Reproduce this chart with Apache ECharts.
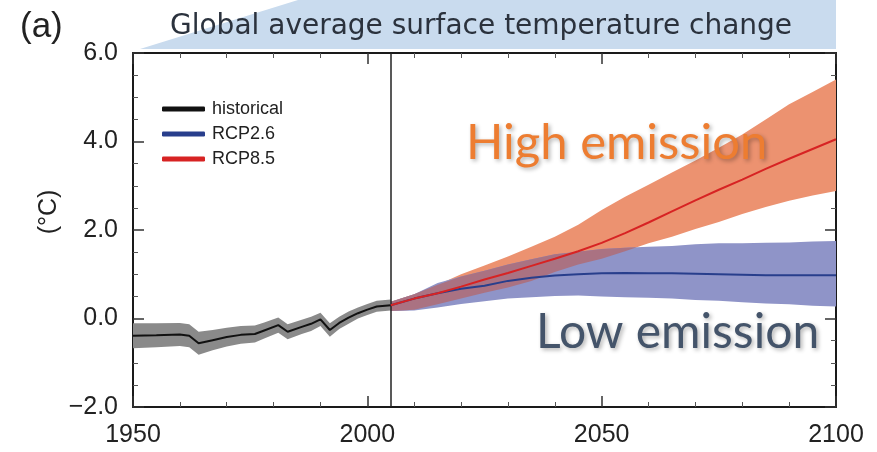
<!DOCTYPE html>
<html>
<head>
<meta charset="utf-8">
<script src="https://cdn.jsdelivr.net/npm/echarts@6/dist/echarts.min.js"></script>
<style>
html,body{margin:0;padding:0;background:#fff;}
#chart{width:877px;height:452px;}
</style>
</head>
<body>
<div id="chart"></div>
<script>
// ---- data ----
const histYears = [1950,1955,1960,1962,1964,1967,1970,1973,1976,1978,1981,1983,1986,1988,1990,1992,1994,1996,1998,2000,2002,2005];
const histMean  = [-0.39,-0.38,-0.36,-0.39,-0.56,-0.49,-0.42,-0.37,-0.35,-0.27,-0.15,-0.30,-0.19,-0.12,-0.02,-0.26,-0.10,0.02,0.12,0.20,0.27,0.30];
const histUpper = [-0.11,-0.11,-0.10,-0.13,-0.30,-0.26,-0.21,-0.17,-0.16,-0.09,0.02,-0.13,-0.03,0.04,0.13,-0.11,0.04,0.16,0.25,0.33,0.40,0.43];
const histLower = [-0.67,-0.65,-0.62,-0.65,-0.82,-0.72,-0.63,-0.57,-0.54,-0.45,-0.32,-0.47,-0.35,-0.28,-0.17,-0.41,-0.24,-0.12,0.00,0.08,0.15,0.18];

const projYears = [2005,2010,2015,2020,2025,2030,2035,2040,2045,2050,2055,2060,2065,2070,2075,2080,2085,2090,2095,2100];
const rcp85Mean  = [0.30,0.45,0.57,0.72,0.88,1.03,1.19,1.35,1.52,1.71,1.93,2.17,2.42,2.67,2.91,3.14,3.38,3.61,3.83,4.05];
const rcp85Upper = [0.38,0.55,0.76,1.00,1.20,1.40,1.62,1.85,2.12,2.45,2.75,3.02,3.30,3.57,3.86,4.16,4.50,4.84,5.12,5.40];
const rcp85Lower = [0.17,0.20,0.32,0.45,0.58,0.70,0.85,1.05,1.22,1.35,1.52,1.70,1.85,2.02,2.18,2.36,2.52,2.66,2.78,2.88];
const rcp26Mean  = [0.30,0.45,0.57,0.67,0.74,0.85,0.92,0.97,1.00,1.02,1.03,1.02,1.02,1.01,1.00,0.99,0.98,0.98,0.98,0.98];
const rcp26Upper = [0.38,0.55,0.80,0.95,1.08,1.22,1.34,1.45,1.51,1.57,1.60,1.62,1.64,1.68,1.70,1.70,1.71,1.72,1.74,1.75];
const rcp26Lower = [0.17,0.18,0.25,0.33,0.39,0.45,0.48,0.51,0.52,0.50,0.48,0.47,0.45,0.42,0.40,0.37,0.34,0.32,0.29,0.27];

const xTickValues = [1950,2000,2050,2100];
const xTickLabels = ['1950','2000','2050','2100'];
const yTickValues = [-2,0,2,4,6];
const yTickLabels = ['\u22122.0','0.0','2.0','4.0','6.0'];
const scenarioYear = 2005;

// ---- helpers ----
const chart = echarts.init(document.getElementById('chart'));

function pairs(xs, ys){ return xs.map((x,i)=>[x, ys[i]]); }
// overlap of two bands sharing the same x positions (built from the band arrays)
function overlapBand(xs, uA, lA, uB, lB){
  const X=[], U=[], L=[];
  let pHi=null, pLo=null;
  for(let i=0;i<xs.length;i++){
    const hi=Math.min(uA[i],uB[i]), lo=Math.max(lA[i],lB[i]);
    if(i>0){
      const g0=pHi-pLo, g1=hi-lo;
      if((g0>0)!==(g1>0)){
        const t=g0/(g0-g1);
        const xc=xs[i-1]+t*(xs[i]-xs[i-1]);
        const vc=pLo+t*(lo-pLo);
        X.push(xc); U.push(vc); L.push(vc);
      }
    }
    if(hi>lo){ X.push(xs[i]); U.push(hi); L.push(lo); }
    pHi=hi; pLo=lo;
  }
  return {x:X, up:U, lo:L};
}
function band(name, xs, up, lo, color, z){
  return {
    type:'custom', name:name, silent:true, z:z,
    data:[[xs[0], up[0]]],
    encode:{x:0, y:1},
    renderItem:function(params, api){
      if(params.dataIndex!==0) return null;
      const pts=[];
      for(let i=0;i<xs.length;i++) pts.push(api.coord([xs[i], up[i]]));
      for(let i=xs.length-1;i>=0;i--) pts.push(api.coord([xs[i], lo[i]]));
      return {type:'polygon', shape:{points:pts}, style:{fill:color}};
    }
  };
}
const ov = overlapBand(projYears, rcp85Upper, rcp85Lower, rcp26Upper, rcp26Lower);

const labelFont = 'Liberation Sans, Arial, sans-serif';
function xLab(v){ const i=xTickValues.indexOf(v); return i>=0?xTickLabels[i]:''; }
function yLab(v){ const i=yTickValues.indexOf(v); return i>=0?yTickLabels[i]:''; }

const axisLineStyle = {color:'#1a1a1a', width:2};
const tickStyle = {color:'#333', width:1.5};
const minorStyle = {color:'#555', width:1};

chart.setOption({
  animation:false,
  backgroundColor:'#fff',
  grid:{left:133, right:41, top:53, bottom:45, containLabel:false},
  legend:{
    data:['historical','RCP2.6','RCP8.5'],
    orient:'vertical', left:157, top:94,
    icon:'roundRect', itemWidth:43, itemHeight:5, itemGap:5,
    textStyle:{fontFamily:labelFont, fontSize:18, color:'#222', lineHeight:20, padding:[0,0,0,2]},
    selectedMode:false
  },
  xAxis:[
    {type:'value', min:1950, max:2100, interval:50, position:'bottom',
     axisLine:{show:true, lineStyle:axisLineStyle, onZero:false},
     axisTick:{show:true, inside:true, length:11, lineStyle:tickStyle},
     minorTick:{show:true, splitNumber:5, length:5, lineStyle:minorStyle},
     splitLine:{show:false},
     axisLabel:{formatter:xLab, fontFamily:labelFont, fontSize:25, color:'#222', margin:16}},
    {type:'value', min:1950, max:2100, interval:50, position:'top',
     axisLine:{show:true, lineStyle:axisLineStyle, onZero:false},
     axisTick:{show:true, inside:true, length:11, lineStyle:tickStyle},
     minorTick:{show:true, splitNumber:5, length:5, lineStyle:minorStyle},
     splitLine:{show:false}, axisLabel:{show:false}}
  ],
  yAxis:[
    {type:'value', min:-2, max:6, interval:2, position:'left',
     axisLine:{show:true, lineStyle:axisLineStyle, onZero:false},
     axisTick:{show:true, inside:true, length:11, lineStyle:tickStyle},
     minorTick:{show:true, splitNumber:4, length:5, lineStyle:minorStyle},
     splitLine:{show:false},
     axisLabel:{formatter:yLab, fontFamily:labelFont, fontSize:25, color:'#222', margin:15}},
    {type:'value', min:-2, max:6, interval:2, position:'right',
     axisLine:{show:true, lineStyle:axisLineStyle, onZero:false},
     axisTick:{show:true, inside:true, length:11, lineStyle:tickStyle},
     minorTick:{show:true, splitNumber:4, length:5, lineStyle:minorStyle},
     splitLine:{show:false}, axisLabel:{show:false}}
  ],
  series:[
    band('histBand', histYears, histUpper, histLower, 'rgb(138,138,138)', 1),
    band('rcp85Band', projYears, rcp85Upper, rcp85Lower, 'rgb(236,146,112)', 2),
    band('rcp26Band', projYears, rcp26Upper, rcp26Lower, 'rgb(143,148,200)', 3),
    band('overlapBand', ov.x, ov.up, ov.lo, 'rgb(170,114,130)', 4),
    {type:'line', name:'historical', data:pairs(histYears, histMean), showSymbol:false, z:5,
     lineStyle:{color:'#111', width:2}, itemStyle:{color:'#111'},
     markLine:{silent:true, symbol:'none', label:{show:false},
       lineStyle:{color:'#222', width:1.5, type:'solid'}, data:[{xAxis:scenarioYear}]}},
    {type:'line', name:'RCP2.6', data:pairs(projYears, rcp26Mean), showSymbol:false, z:6,
     lineStyle:{color:'rgb(40,62,140)', width:2}, itemStyle:{color:'rgb(40,62,140)'}},
    {type:'line', name:'RCP8.5', data:pairs(projYears, rcp85Mean), showSymbol:false, z:7,
     lineStyle:{color:'rgb(215,35,35)', width:2}, itemStyle:{color:'rgb(215,35,35)'}}
  ],
  graphic:[
    {type:'polygon', z:-1, silent:true, shape:{points:[[140,49],[298,0],[836,0],[836,49]]}, style:{fill:'#c9dbee'}},
    {type:'text', left:170, top:13, z:100, silent:true,
     style:{text:'Global average surface temperature change', font:'28px "DejaVu Sans"', fill:'#2b323d'}},
    {type:'text', left:20, top:10, z:100, silent:true,
     style:{text:'(a)', font:'35px "Liberation Sans"', fill:'#222'}},
    {type:'text', x:49, y:212, rotation:Math.PI/2, z:100, silent:true,
     style:{text:'(\u00b0C)', font:'25px "Liberation Sans"', fill:'#222', align:'center', verticalAlign:'middle'}},
    {type:'text', left:466, top:119, z:100, silent:true,
     style:{text:'High emission', font:'49px Lato', fill:'#ed7d31',
       textShadowColor:'rgba(0,0,0,0.3)', textShadowBlur:4, textShadowOffsetX:2, textShadowOffsetY:2}},
    {type:'text', left:536, top:309, z:100, silent:true,
     style:{text:'Low emission', font:'48px Lato', fill:'#44546a',
       textShadowColor:'rgba(0,0,0,0.3)', textShadowBlur:4, textShadowOffsetX:2, textShadowOffsetY:2}}
  ]
});
</script>
</body>
</html>
